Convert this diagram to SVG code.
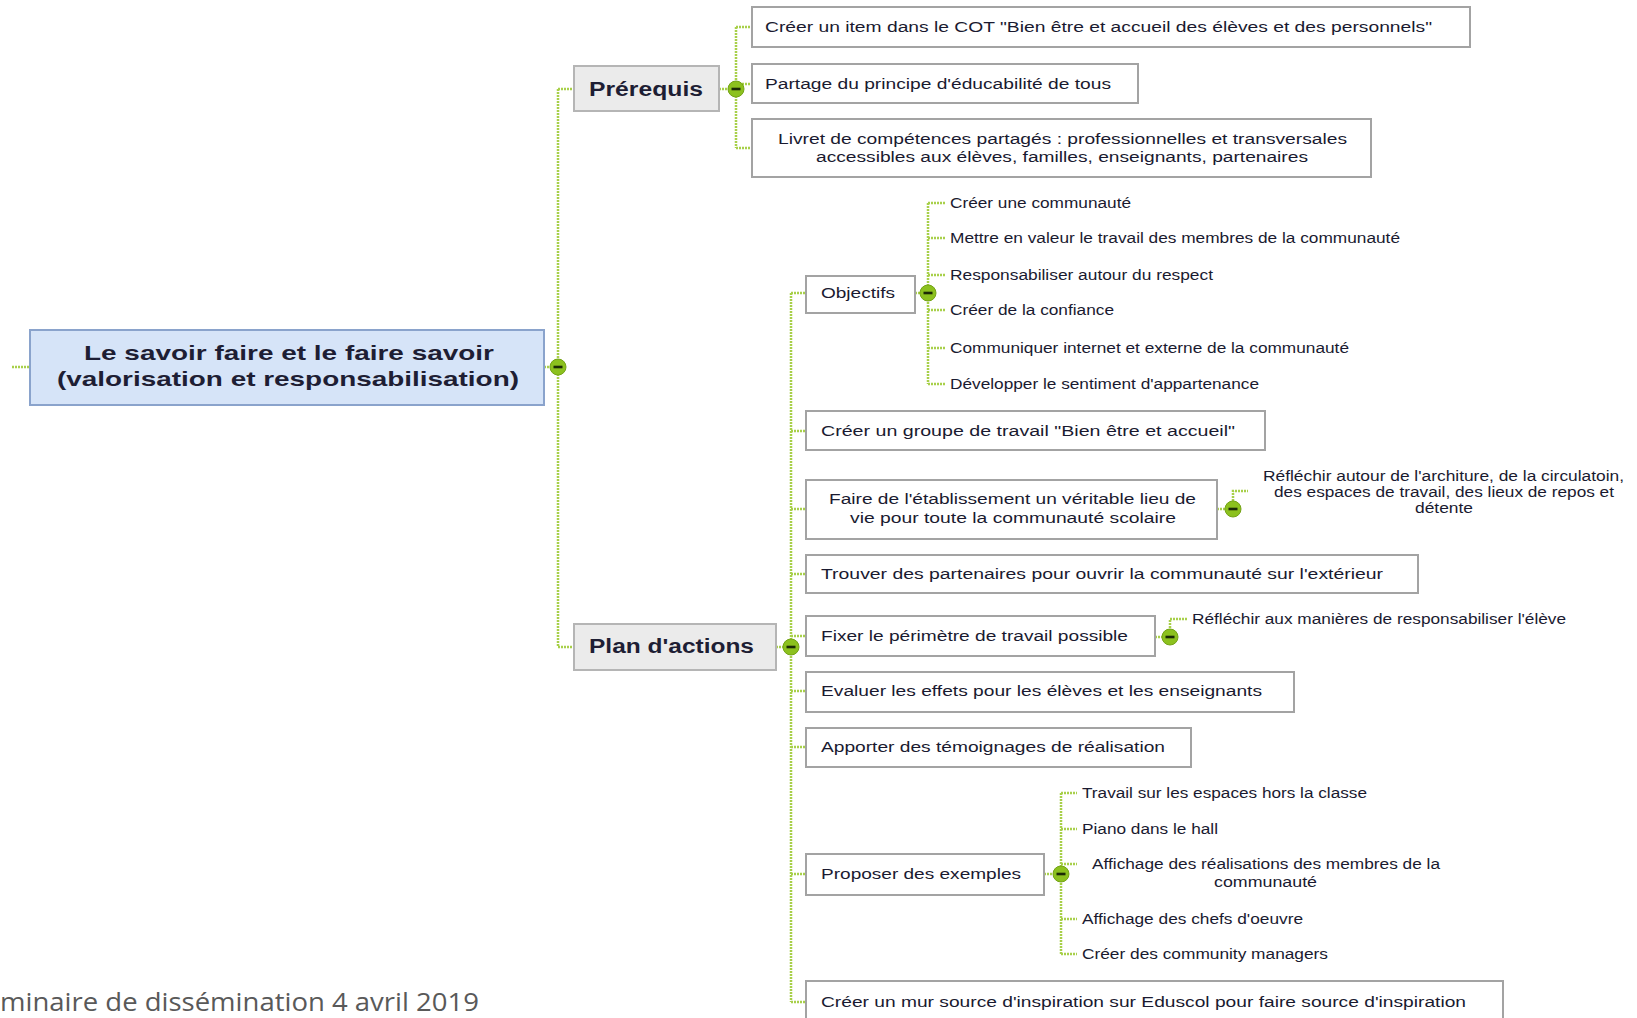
<svg xmlns="http://www.w3.org/2000/svg" width="1637" height="1018" viewBox="0 0 1637 1018">
<style>
.bx{fill:#ffffff;stroke:#a3a3a3;stroke-width:2}
.gr{fill:#ebebeb;stroke:#b5b5b5;stroke-width:2}
.cen{fill:#d6e4f8;stroke:#8aa3cc;stroke-width:2}
.t{font-family:"Liberation Sans",Arial,sans-serif;font-size:14px;fill:#1a1a30}
.tb{font-family:"Liberation Sans",Arial,sans-serif;font-weight:bold;fill:#1e1e34}
.c{fill:none;stroke:#a8d04a;stroke-width:2.5;stroke-dasharray:2 1}
.dot{fill:#8cc11e;stroke:#74a316;stroke-width:1}
.foot{font-family:"Open Sans","Liberation Sans",sans-serif;font-size:25px;fill:#595959}
</style>
<defs>
<g id="tog"><circle class="dot" cx="0" cy="0" r="8"/><rect x="-4.5" y="-1.3" width="9" height="2.6" fill="#1b2a05"/></g>
</defs>
<rect width="1637" height="1018" fill="#ffffff"/>

<g id="connectors">
<path class="c" d="M12 367H30"/>
<path class="c" d="M544 367H558M558 89V647M558 89H574M558 647H574"/>
<path class="c" d="M719 89H736M736 27V148M736 27H752M736 84H752M736 148H752"/>
<path class="c" d="M776 647H791M791 293V1002M791 293H806M791 431H806M791 509H806M791 574H806M791 636H806M791 691H806M791 747H806M791 874H806M791 1002H806"/>
<path class="c" d="M915 293H928M928 203V384M928 203H945M928 238H945M928 275H945M928 310H945M928 348H945M928 384H945"/>
<path class="c" d="M1217 509H1233V491H1248"/>
<path class="c" d="M1155 637H1170V619H1187"/>
<path class="c" d="M1044 874H1061M1061 793V954M1061 793H1077M1061 829H1077M1061 864H1077M1061 919H1077M1061 954H1077"/>
</g>

<g id="central">
<rect class="cen" x="30" y="330" width="514" height="75"/>
<text class="tb" font-size="21" x="84" y="360" textLength="410" lengthAdjust="spacingAndGlyphs">Le savoir faire et le faire savoir</text>
<text class="tb" font-size="21" x="57" y="386" textLength="462" lengthAdjust="spacingAndGlyphs">(valorisation et responsabilisation)</text>
</g>
<g id="central-toggle"><use href="#tog" x="558" y="367"/></g>

<g id="prerequis">
<rect class="gr" x="574" y="66" width="145" height="45"/>
<text class="tb" font-size="20" x="589" y="96" textLength="114" lengthAdjust="spacingAndGlyphs">Prérequis</text>
<use href="#tog" x="736" y="89"/>
</g>
<g id="p1">
<rect class="bx" x="752" y="7" width="718" height="40"/>
<text class="t" x="765" y="32" textLength="667" lengthAdjust="spacingAndGlyphs">Créer un item dans le COT "Bien être et accueil des élèves et des personnels"</text>
</g>
<g id="p2">
<rect class="bx" x="752" y="64" width="386" height="39"/>
<text class="t" x="765" y="89" textLength="346" lengthAdjust="spacingAndGlyphs">Partage du principe d'éducabilité de tous</text>
</g>
<g id="p3">
<rect class="bx" x="752" y="119" width="619" height="58"/>
<text class="t" x="778" y="144" textLength="569" lengthAdjust="spacingAndGlyphs">Livret de compétences partagés : professionnelles et transversales</text>
<text class="t" x="816" y="162" textLength="492" lengthAdjust="spacingAndGlyphs">accessibles aux élèves, familles, enseignants, partenaires</text>
</g>

<g id="plan">
<rect class="gr" x="574" y="624" width="202" height="46"/>
<text class="tb" font-size="20" x="589" y="653" textLength="165" lengthAdjust="spacingAndGlyphs">Plan d'actions</text>
<use href="#tog" x="791" y="647"/>
</g>

<g id="objectifs">
<rect class="bx" x="806" y="276" width="109" height="37"/>
<text class="t" x="821" y="298" textLength="74" lengthAdjust="spacingAndGlyphs">Objectifs</text>
<use href="#tog" x="928" y="293"/>
</g>
<g id="obj-leaves">
<text class="t" x="950" y="208" textLength="181" lengthAdjust="spacingAndGlyphs">Créer une communauté</text>
<text class="t" x="950" y="243" textLength="450" lengthAdjust="spacingAndGlyphs">Mettre en valeur le travail des membres de la communauté</text>
<text class="t" x="950" y="280" textLength="263" lengthAdjust="spacingAndGlyphs">Responsabiliser autour du respect</text>
<text class="t" x="950" y="315" textLength="164" lengthAdjust="spacingAndGlyphs">Créer de la confiance</text>
<text class="t" x="950" y="353" textLength="399" lengthAdjust="spacingAndGlyphs">Communiquer internet et externe de la communauté</text>
<text class="t" x="950" y="389" textLength="309" lengthAdjust="spacingAndGlyphs">Développer le sentiment d'appartenance</text>
</g>

<g id="groupe">
<rect class="bx" x="806" y="411" width="459" height="39"/>
<text class="t" x="821" y="436" textLength="414" lengthAdjust="spacingAndGlyphs">Créer un groupe de travail  "Bien être et accueil"</text>
</g>
<g id="lieu">
<rect class="bx" x="806" y="480" width="411" height="59"/>
<text class="t" x="829" y="504" textLength="367" lengthAdjust="spacingAndGlyphs">Faire de l'établissement un véritable lieu de</text>
<text class="t" x="850" y="523" textLength="326" lengthAdjust="spacingAndGlyphs">vie pour toute la communauté scolaire</text>
<use href="#tog" x="1233" y="509"/>
</g>
<g id="lieu-leaf">
<text class="t" x="1263" y="481" textLength="361" lengthAdjust="spacingAndGlyphs">Réfléchir autour de l'architure, de la circulatoin,</text>
<text class="t" x="1274" y="497" textLength="340" lengthAdjust="spacingAndGlyphs">des espaces de travail, des lieux de repos et</text>
<text class="t" x="1415" y="513" textLength="58" lengthAdjust="spacingAndGlyphs">détente</text>
</g>
<g id="partenaires">
<rect class="bx" x="806" y="555" width="612" height="38"/>
<text class="t" x="821" y="579" textLength="562" lengthAdjust="spacingAndGlyphs">Trouver des partenaires pour ouvrir la communauté  sur l'extérieur</text>
</g>
<g id="perimetre">
<rect class="bx" x="806" y="616" width="349" height="40"/>
<text class="t" x="821" y="641" textLength="307" lengthAdjust="spacingAndGlyphs">Fixer le périmètre de travail possible</text>
<use href="#tog" x="1170" y="637"/>
</g>
<g id="perimetre-leaf">
<text class="t" x="1192" y="624" textLength="374" lengthAdjust="spacingAndGlyphs">Réfléchir aux manières de responsabiliser l'élève</text>
</g>
<g id="evaluer">
<rect class="bx" x="806" y="672" width="488" height="40"/>
<text class="t" x="821" y="696" textLength="441" lengthAdjust="spacingAndGlyphs">Evaluer les effets pour les élèves et les enseignants</text>
</g>
<g id="temoignages">
<rect class="bx" x="806" y="728" width="385" height="39"/>
<text class="t" x="821" y="752" textLength="344" lengthAdjust="spacingAndGlyphs">Apporter des témoignages de réalisation</text>
</g>
<g id="exemples">
<rect class="bx" x="806" y="854" width="238" height="41"/>
<text class="t" x="821" y="879" textLength="200" lengthAdjust="spacingAndGlyphs">Proposer des exemples</text>
<use href="#tog" x="1061" y="874"/>
</g>
<g id="exemples-leaves">
<text class="t" x="1082" y="798" textLength="285" lengthAdjust="spacingAndGlyphs">Travail sur les espaces hors la classe</text>
<text class="t" x="1082" y="834" textLength="136" lengthAdjust="spacingAndGlyphs">Piano dans le hall</text>
<text class="t" x="1092" y="869" textLength="348" lengthAdjust="spacingAndGlyphs">Affichage des réalisations des membres de la</text>
<text class="t" x="1214" y="887" textLength="103" lengthAdjust="spacingAndGlyphs">communauté</text>
<text class="t" x="1082" y="924" textLength="221" lengthAdjust="spacingAndGlyphs">Affichage des chefs d'oeuvre</text>
<text class="t" x="1082" y="959" textLength="246" lengthAdjust="spacingAndGlyphs">Créer des community managers</text>
</g>
<g id="mur">
<rect class="bx" x="806" y="981" width="697" height="50"/>
<text class="t" x="821" y="1007" textLength="645" lengthAdjust="spacingAndGlyphs">Créer un mur source d'inspiration sur Eduscol pour faire source d'inspiration</text>
</g>

<text class="foot" x="0" y="1011" textLength="479" lengthAdjust="spacingAndGlyphs">minaire de dissémination 4 avril 2019</text>
</svg>
